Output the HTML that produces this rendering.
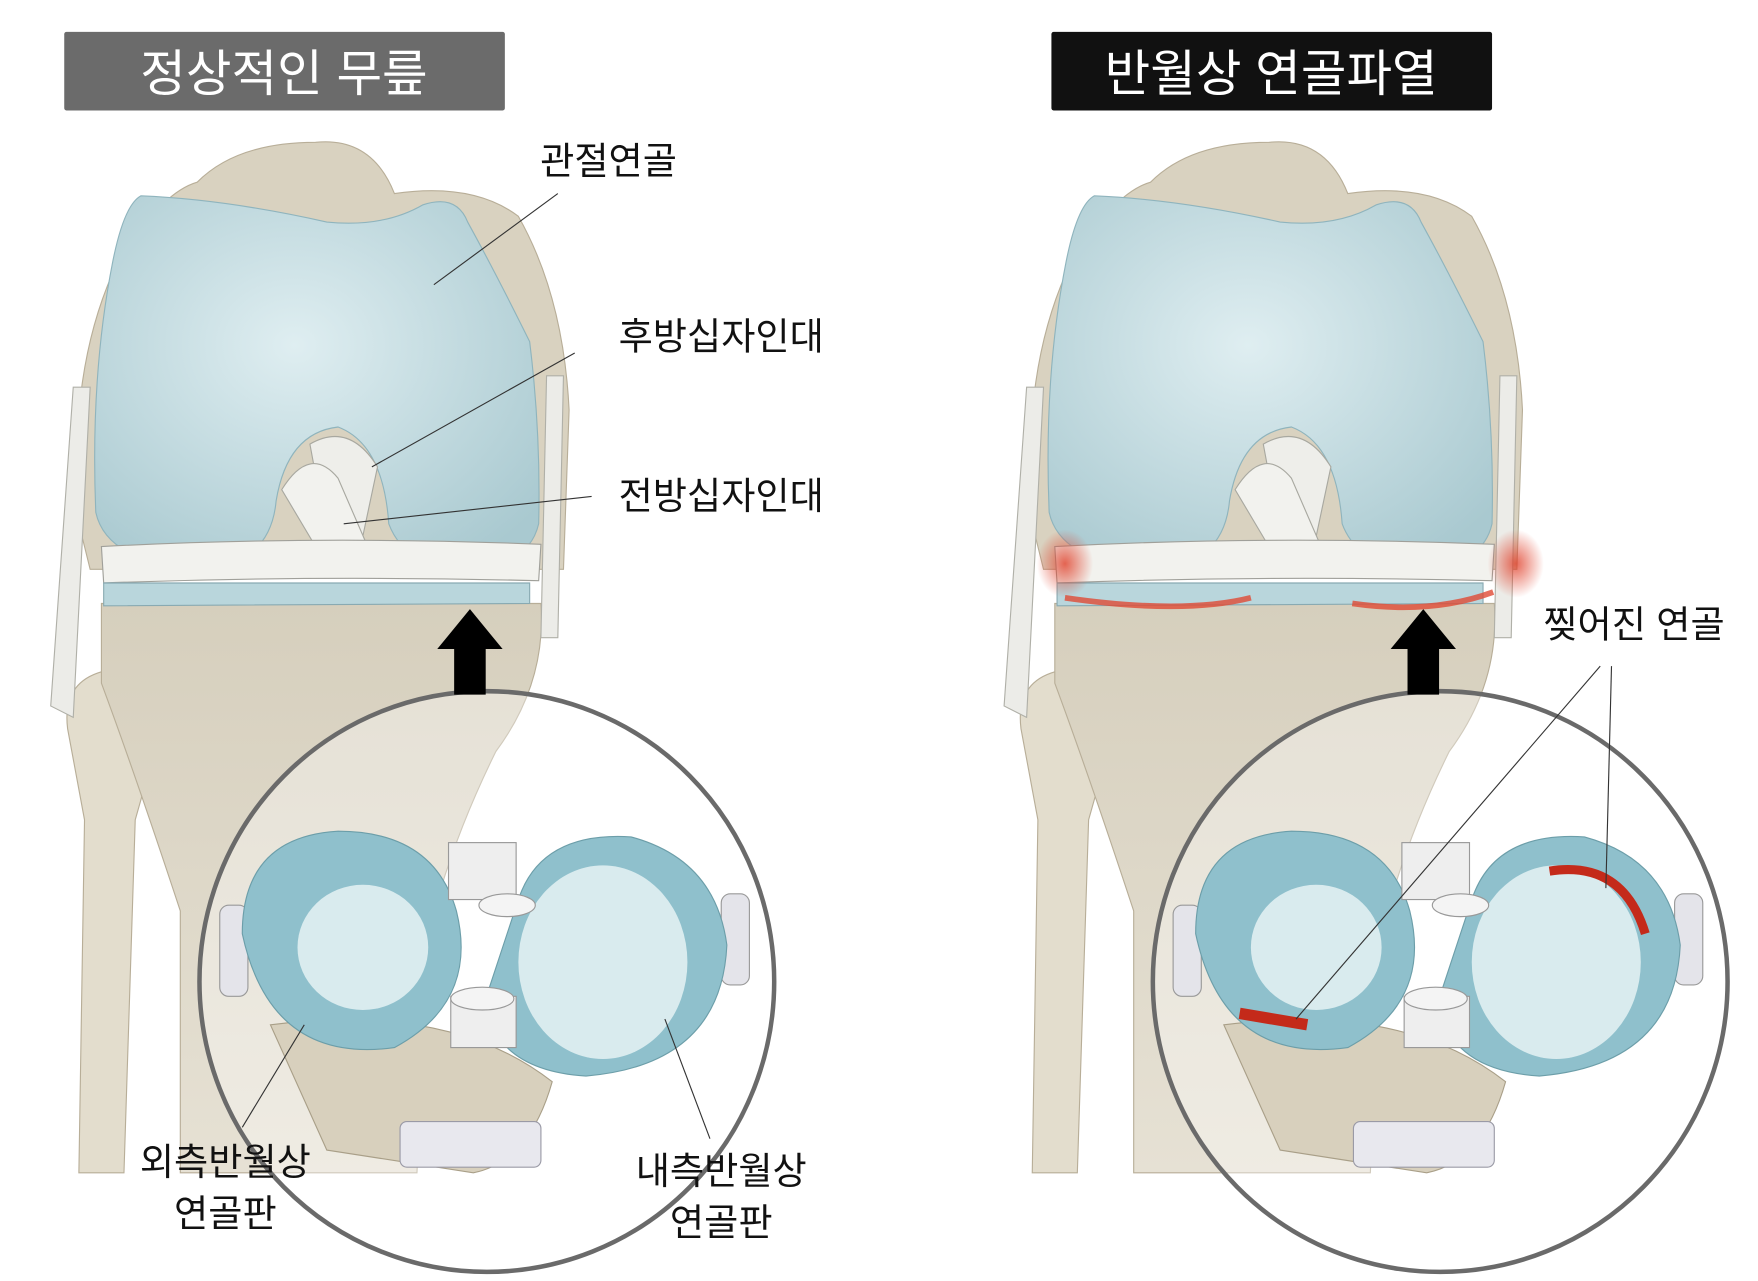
<!DOCTYPE html>
<html><head><meta charset="utf-8"><style>
html,body{margin:0;padding:0;background:#fff;}
svg{display:block;}
text{font-family:"Liberation Sans","Noto Sans CJK KR",sans-serif;}
</style></head><body>
<svg width="1758" height="1281" viewBox="0 0 1560 1125" preserveAspectRatio="none" xmlns="http://www.w3.org/2000/svg">
<defs>
<radialGradient id="cart" cx="0.45" cy="0.4" r="0.7"><stop offset="0" stop-color="#dfeef1"/><stop offset="1" stop-color="#a9c9d0"/></radialGradient>
<linearGradient id="bone" x1="0" y1="0" x2="0" y2="1"><stop offset="0" stop-color="#d6cfbd"/><stop offset="1" stop-color="#e6e1d4"/></linearGradient>
<radialGradient id="glow"><stop offset="0" stop-color="#e0402a" stop-opacity="0.8"/><stop offset="1" stop-color="#e0402a" stop-opacity="0"/></radialGradient>
<g id="knee">
  <path d="M60 640 Q55 600 90 590 Q130 600 140 650 L120 720 L110 1030 L70 1030 L75 720 Z" fill="#e3ddcd" stroke="#b8ae98"/>
  <path d="M90 530 L480 530 Q485 600 440 660 Q400 740 380 820 L370 1030 L160 1030 L160 800 Q120 680 90 600 Z" fill="url(#bone)" stroke="#b8ae98"/>
  <path d="M70 460 Q60 330 100 240 Q140 170 175 160 Q210 125 280 125 Q330 120 350 170 Q420 160 460 190 Q500 260 505 360 L500 500 L80 500 Z" fill="#d9d2c0" stroke="#b8ae98"/>
  <path d="M85 450 Q80 330 100 230 Q110 180 125 172 Q200 175 290 195 Q340 200 375 180 Q405 170 415 195 Q440 240 470 300 Q480 380 478 460 Q470 495 420 500 Q360 500 345 460 Q340 390 300 375 Q255 380 245 440 Q240 495 180 500 Q95 495 85 450 Z" fill="url(#cart)" stroke="#8fb4bd"/>
  <path d="M275 390 Q310 370 335 410 L320 480 L290 470 Z" fill="#eeeeea" stroke="#a8a8a0"/>
  <path d="M250 430 Q275 390 300 420 L335 500 L295 505 Z" fill="#f2f2ee" stroke="#a8a8a0"/>
  <path d="M45 620 L65 340 L80 340 L65 630 Z" fill="#ecece8" stroke="#b0b0a8"/>
  <path d="M485 330 L500 330 L495 560 L480 560 Z" fill="#ecece8" stroke="#b0b0a8"/>
  <path d="M90 480 Q280 470 480 478 L478 510 Q280 505 92 512 Z" fill="#f2f2ee" stroke="#a0a09a"/>
  <path d="M92 512 L470 512 L470 530 L92 532 Z" fill="#b9d6dc" stroke="#89aab2"/>
  <ellipse cx="432" cy="862" rx="255" ry="255" fill="#ffffff" fill-opacity="0.35" stroke="#6a6a6a" stroke-width="4"/>
  <path d="M240 900 Q400 880 490 950 Q470 1020 420 1030 L290 1010 Z" fill="#d8d0bd" stroke="#a99f88"/>
  <rect x="355" y="985" width="125" height="40" rx="6" fill="#e8e8ee" stroke="#9a9aa6"/>
  <rect x="195" y="795" width="25" height="80" rx="8" fill="#e4e4ea" stroke="#999"/>
  <rect x="640" y="785" width="25" height="80" rx="8" fill="#e4e4ea" stroke="#999"/>
  <path d="M215 820 Q215 735 300 730 Q385 730 405 800 Q425 880 350 920 Q240 935 215 820 Z" fill="#8fc0cc" stroke="#6c9ea9"/>
  <ellipse cx="322" cy="832" rx="58" ry="55" fill="#d9ebee"/>
  <path d="M460 790 Q480 730 560 735 Q635 755 645 830 Q640 935 520 945 Q440 940 430 880 Z" fill="#8fc0cc" stroke="#6c9ea9"/>
  <ellipse cx="535" cy="845" rx="75" ry="85" fill="#d9ebee"/>
  <rect x="398" y="740" width="60" height="50" fill="#eeeeee" stroke="#999"/>
  <ellipse cx="450" cy="795" rx="25" ry="10" fill="#f4f4f4" stroke="#999"/>
  <rect x="400" y="875" width="58" height="45" fill="#eeeeee" stroke="#999"/>
  <ellipse cx="428" cy="877" rx="28" ry="10" fill="#f4f4f4" stroke="#999"/>
  <path d="M403 610 L403 570 L388 570 L417 535 L446 570 L431 570 L431 610 Z" fill="#000"/>
</g>
</defs>

<rect x="57" y="28" width="391" height="69" rx="2" fill="#6b6b6b"/>
<text x="252" y="80" font-size="44" fill="#fff" text-anchor="middle">정상적인 무릎</text>
<rect x="933" y="28" width="391" height="69" rx="2" fill="#111"/>
<text x="1128" y="80" font-size="44" fill="#fff" text-anchor="middle">반월상 연골파열</text>

<use href="#knee"/>
<use href="#knee" transform="translate(846,0)"/>

<ellipse cx="945" cy="495" rx="25" ry="30" fill="url(#glow)"/>
<ellipse cx="1345" cy="495" rx="25" ry="30" fill="url(#glow)"/>
<path d="M945 525 Q1050 540 1110 525 M1200 530 Q1270 540 1325 520" stroke="#e04a35" stroke-width="5" fill="none" opacity="0.8"/>
<path d="M1375 765 Q1440 755 1460 820" stroke="#c42a1a" stroke-width="8" fill="none"/>
<path d="M1100 890 L1160 900" stroke="#c42a1a" stroke-width="10"/>

<g stroke="#333" stroke-width="1" fill="none">
<line x1="495" y1="170" x2="385" y2="250"/>
<line x1="510" y1="310" x2="330" y2="410"/>
<line x1="525" y1="436" x2="305" y2="460"/>
<line x1="270" y1="900" x2="215" y2="990"/>
<line x1="590" y1="895" x2="630" y2="1000"/>
<line x1="1420" y1="585" x2="1150" y2="895"/>
<line x1="1430" y1="585" x2="1425" y2="780"/>
</g>

<g font-size="33" fill="#111" text-anchor="middle">
<text x="540" y="153">관절연골</text>
<text x="640" y="307">후방십자인대</text>
<text x="640" y="447">전방십자인대</text>
<text x="200" y="1032">외측반월상</text>
<text x="200" y="1077">연골판</text>
<text x="640" y="1040">내측반월상</text>
<text x="640" y="1085">연골판</text>
<text x="1450" y="560">찢어진 연골</text>
</g>
</svg>
</body></html>
